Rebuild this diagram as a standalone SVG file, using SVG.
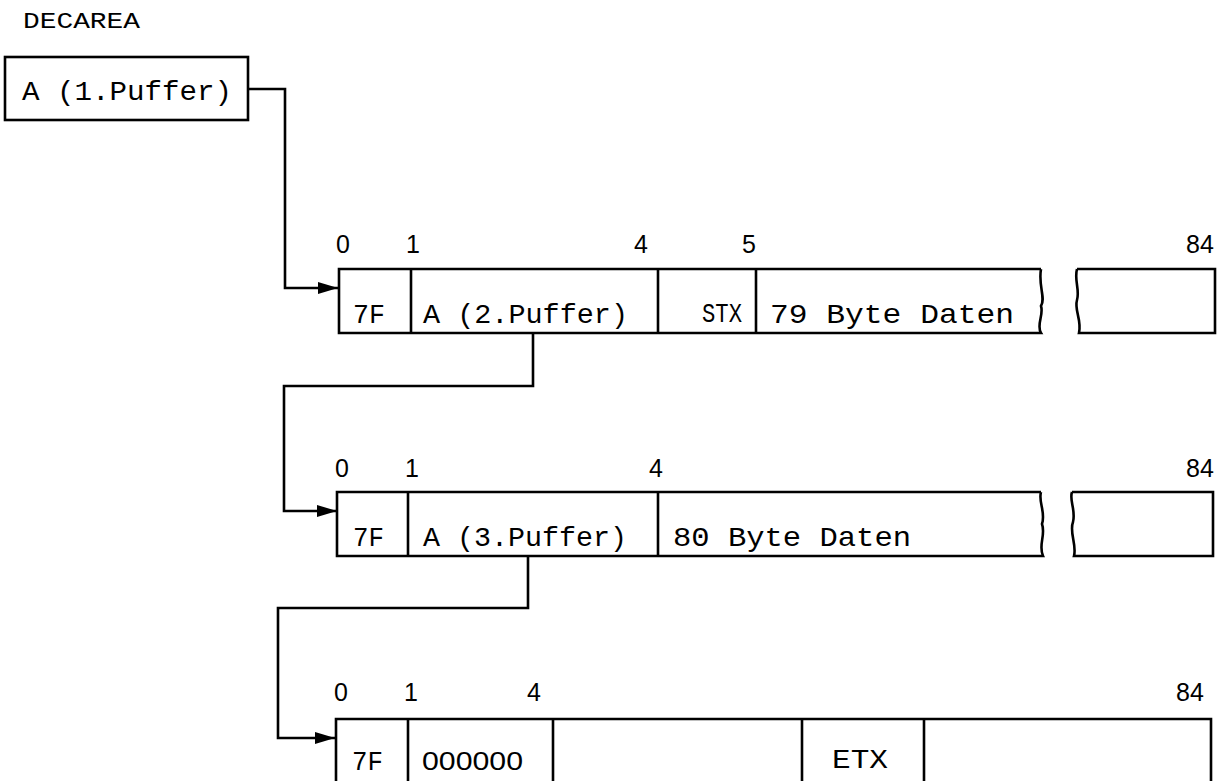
<svg xmlns="http://www.w3.org/2000/svg" width="1228" height="781" viewBox="0 0 1228 781">
<style>
.bg{fill:#ffffff}
.box{fill:none;stroke:#000;stroke-width:2.6;stroke-linejoin:miter}
.ln{fill:none;stroke:#000;stroke-width:2.6}
.tw{font-family:"Liberation Mono","DejaVu Sans Mono",monospace;font-size:28px;fill:#000}
.sm{font-family:"Liberation Mono","DejaVu Sans Mono",monospace;font-size:22px;fill:#000}
.num{font-family:"Liberation Sans","DejaVu Sans",sans-serif;font-size:25px;fill:#000}
</style>
<defs>
<marker id="ah" markerWidth="20" markerHeight="12" refX="20" refY="6" orient="auto" markerUnits="userSpaceOnUse">
<path d="M0,0 L20,6 L0,12 Z" fill="#000"/>
</marker>
</defs>
<rect class="bg" x="0" y="0" width="1228" height="781"/>

<text class="sm" x="23" y="28" textLength="117" lengthAdjust="spacingAndGlyphs">DECAREA</text>

<g id="decarea-box">
<rect class="box" x="5" y="57" width="243" height="63"/>
<text class="tw" x="22" y="100" textLength="210" lengthAdjust="spacingAndGlyphs">A (1.Puffer)</text>
</g>

<g id="puffer1">
<path class="box" d="M1041,269 L339,269 L339,333 L1041,333 C1036,325 1044,315 1041,306 C1046,298 1038,286 1041,269"/>
<line class="ln" x1="411" y1="269" x2="411" y2="333"/>
<line class="ln" x1="658" y1="269" x2="658" y2="333"/>
<line class="ln" x1="756" y1="269" x2="756" y2="333"/>
<path class="box" d="M1077,269 L1215,269 L1215,333 L1079,333 C1082,320 1074,310 1077,300 C1080,290 1074,280 1077,269"/>
<text class="tw" x="353" y="323" textLength="32" lengthAdjust="spacingAndGlyphs">7F</text>
<text class="tw" x="423" y="323" textLength="205" lengthAdjust="spacingAndGlyphs">A (2.Puffer)</text>
<text class="tw" x="702" y="322" textLength="40" lengthAdjust="spacingAndGlyphs">STX</text>
<text class="tw" x="770" y="323" textLength="244" lengthAdjust="spacingAndGlyphs">79 Byte Daten</text>
<text class="num" x="336" y="253">0</text>
<text class="num" x="406" y="253">1</text>
<text class="num" x="634" y="253">4</text>
<text class="num" x="742" y="253">5</text>
<text class="num" x="1186" y="253">84</text>
</g>

<g id="puffer2">
<path class="box" d="M1041,492 L337,492 L337,556 L1043,556 C1038,545 1046,535 1042,524 C1046,512 1038,502 1041,492"/>
<line class="ln" x1="408" y1="492" x2="408" y2="556"/>
<line class="ln" x1="658" y1="492" x2="658" y2="556"/>
<path class="box" d="M1072,492 L1213,492 L1213,556 L1074,556 C1077,545 1069,532 1073,522 C1076,510 1069,500 1072,492"/>
<text class="tw" x="353" y="546" textLength="31" lengthAdjust="spacingAndGlyphs">7F</text>
<text class="tw" x="423" y="546" textLength="204" lengthAdjust="spacingAndGlyphs">A (3.Puffer)</text>
<text class="tw" x="673" y="546" textLength="238" lengthAdjust="spacingAndGlyphs">80 Byte Daten</text>
<text class="num" x="335" y="477">0</text>
<text class="num" x="405" y="477">1</text>
<text class="num" x="649" y="477">4</text>
<text class="num" x="1186" y="477">84</text>
</g>

<g id="puffer3">
<path class="box" d="M336,790 L336,719 L1211,719 L1211,790"/>
<line class="ln" x1="408" y1="719" x2="408" y2="790"/>
<line class="ln" x1="553" y1="719" x2="553" y2="790"/>
<line class="ln" x1="802" y1="719" x2="802" y2="790"/>
<line class="ln" x1="924" y1="719" x2="924" y2="790"/>
<text class="tw" x="352" y="770" textLength="31" lengthAdjust="spacingAndGlyphs">7F</text>
<text class="num" x="422" y="770" textLength="101" lengthAdjust="spacingAndGlyphs">000000</text>
<text class="tw" x="832" y="768" textLength="56" lengthAdjust="spacingAndGlyphs">ETX</text>
<text class="num" x="334" y="701">0</text>
<text class="num" x="404" y="701">1</text>
<text class="num" x="527" y="701">4</text>
<text class="num" x="1176" y="701">84</text>
</g>

<g id="connectors">
<path class="ln" d="M248,89 L285,89 L285,288 L338,288" marker-end="url(#ah)"/>
<path class="ln" d="M533,333 L533,386 L284,386 L284,511 L337,511" marker-end="url(#ah)"/>
<path class="ln" d="M528,556 L528,608 L278,608 L278,738 L335,738" marker-end="url(#ah)"/>
</g>
</svg>
